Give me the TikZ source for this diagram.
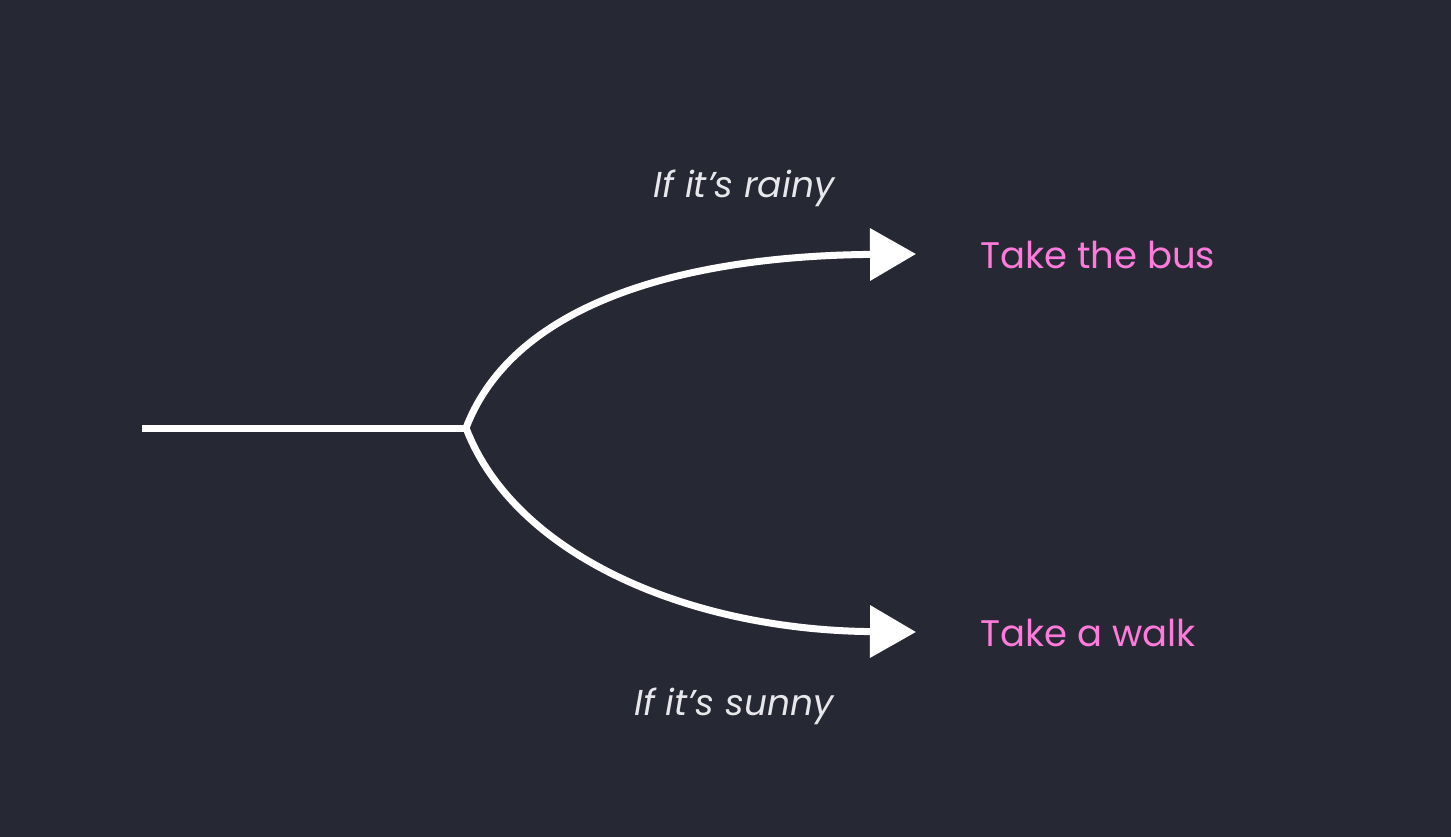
\documentclass[tikz,border=0pt]{standalone}
\usepackage{fontspec}
\setmainfont{Poppins}
\usetikzlibrary{arrows.meta}
\definecolor{bg}{HTML}{262833}
\definecolor{pinktxt}{HTML}{FF7ADB}
\definecolor{labeltxt}{HTML}{E8E8EC}
\tikzset{
  branch/.style={draw=white, line width=7pt, -{Triangle[length=46pt,width=51pt]}},
  outcome/.style={anchor=west, text=pinktxt, font=\fontsize{37}{42}\selectfont\mdseries, inner sep=0pt},
  cond/.style={text=labeltxt, font=\fontsize{36}{40}\selectfont\itshape\mdseries, inner sep=0pt},
}
\begin{document}
\begin{tikzpicture}[x=1pt,y=-1pt]
\fill[bg] (0,0) rectangle (1451,837);
\useasboundingbox (0,0) rectangle (1451,837);
\coordinate (start) at (142,428);
\coordinate (fork) at (466,428);
\coordinate (endup) at (916,254);
\coordinate (enddown) at (916,632);
\draw[white, line width=7pt] (start) -- (fork);
\draw[branch] (fork) .. controls (515,300) and (690,256) .. (endup);
\draw[branch] (fork) .. controls (515,556) and (690,630) .. (enddown);
\node[outcome] (bus) at (980,255) {Take the bus};
\node[outcome] (walk) at (980,633) {Take a walk};
\node[cond] (rainy) at (744,188) {If it’s rainy};
\node[cond] (sunny) at (734,706) {If it’s sunny};
\end{tikzpicture}
\end{document}
